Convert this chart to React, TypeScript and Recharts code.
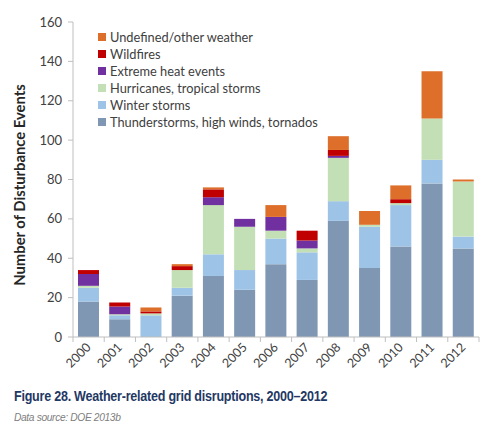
import React from "react";
import { BarChart, Bar, XAxis, YAxis, Legend, Label } from "recharts";

const years = ["2000","2001","2002","2003","2004","2005","2006","2007","2008","2009","2010","2011","2012"];
const thunderstorms = [18, 9, 0, 21, 31, 24, 37, 29, 59, 35, 46, 78, 45];
const winterStorms = [7, 2, 11, 4, 11, 10, 13, 14, 10, 21, 21, 12, 6];
const hurricanes = [1, 0.5, 1, 9, 25, 22, 4, 2, 22, 1, 1, 21, 28];
const heatEvents = [6, 4, 0, 0, 4, 4, 7, 4, 1, 0, 0, 0, 0];
const wildfires = [2, 2, 1, 2, 4, 0, 0, 5, 3, 0, 2, 0, 0];
const undefinedOther = [0, 0, 2, 1, 1, 0, 6, 0, 7, 7, 7, 24, 1];
const yTicks = [0, 20, 40, 60, 80, 100, 120, 140, 160];

const series = [
  { key: "thunder", name: "Thunderstorms, high winds, tornados", color: "#8097b3", values: thunderstorms },
  { key: "winter", name: "Winter storms", color: "#9dc3e6", values: winterStorms },
  { key: "hurricane", name: "Hurricanes, tropical storms", color: "#c3dfb5", values: hurricanes },
  { key: "heat", name: "Extreme heat events", color: "#7030a0", values: heatEvents },
  { key: "wildfire", name: "Wildfires", color: "#c00000", values: wildfires },
  { key: "other", name: "Undefined/other weather", color: "#dd6f2a", values: undefinedOther },
];

const data = years.map((y, i) => {
  const row: Record<string, any> = { year: y };
  series.forEach((s) => (row[s.key] = s.values[i]));
  return row;
});

const FONT = "Lato, 'Open Sans', sans-serif";
const BAND = 406 / 13;

const XTick = (props: any) => {
  const { x, y, payload, index } = props;
  return (
    <g>
      <line x1={x - BAND / 2} x2={x - BAND / 2} y1={y} y2={y + 5} stroke="#bfbfbf" />
      {index === years.length - 1 && (
        <line x1={x + BAND / 2} x2={x + BAND / 2} y1={y} y2={y + 5} stroke="#bfbfbf" />
      )}
      <text
        x={x + 3}
        y={y + 11}
        textAnchor="end"
        transform={`rotate(-45, ${x + 3}, ${y + 11})`}
        fontSize={12.5}
        fontFamily={FONT}
        fill="#404040"
      >
        {payload.value}
      </text>
    </g>
  );
};

const LegendContent = () => (
  <div style={{ fontFamily: FONT, fontSize: 12.8, color: "#404040" }}>
    {[...series].reverse().map((s) => (
      <div key={s.key} style={{ display: "flex", alignItems: "center", height: 17, whiteSpace: "nowrap" }}>
        <span style={{ display: "inline-block", width: 8, height: 8, background: s.color, marginRight: 4 }} />
        <span>{s.name}</span>
      </div>
    ))}
  </div>
);

export default function App() {
  return (
    <div style={{ position: "absolute", left: 0, top: 0, width: 487, height: 425, background: "#fff" }}>
      <BarChart
        width={487}
        height={425}
        data={data}
        margin={{ top: 22, right: 8, left: 0, bottom: 48 }}
        barCategoryGap="16%"
      >
        <XAxis
          dataKey="year"
          height={40}
          tickLine={false}
          tickSize={0}
          tickMargin={0}
          axisLine={{ stroke: "#bfbfbf" }}
          tick={<XTick />}
          interval={0}
        />
        <YAxis
          width={73}
          domain={[0, 160]}
          ticks={yTicks}
          interval={0}
          tickSize={5}
          tickMargin={6}
          axisLine={{ stroke: "#bfbfbf" }}
          tickLine={{ stroke: "#bfbfbf" }}
          tick={{ fontSize: 13, fontFamily: FONT, fill: "#404040" }}
        >
          <Label
            content={() => (
              <text
                x={19}
                y={185}
                transform="rotate(-90, 19, 185)"
                textAnchor="middle"
                dominantBaseline="central"
                fontSize={14.8}
                fontWeight="bold"
                fontFamily={FONT}
                fill="#262626"
              >
                Number of Disturbance Events
              </text>
            )}
          />
        </YAxis>
        <Legend
          layout="vertical"
          align="center"
          verticalAlign="middle"
          content={<LegendContent />}
          wrapperStyle={{ position: "absolute", left: 98, top: 28, width: 260 }}
        />
        {series.map((s) => (
          <Bar key={s.key} dataKey={s.key} name={s.name} stackId="a" fill={s.color} isAnimationActive={false} />
        ))}
      </BarChart>
      <div
        style={{
          position: "absolute",
          left: 14,
          top: 387,
          fontFamily: "'Liberation Sans', Arial, sans-serif",
          fontWeight: "bold",
          fontSize: 15.5,
          letterSpacing: -0.3,
          color: "#1f3864",
          whiteSpace: "nowrap",
          transform: "scaleX(0.81)",
          transformOrigin: "left top",
        }}
      >
        Figure 28. Weather-related grid disruptions, 2000–2012
      </div>
      <div
        style={{
          position: "absolute",
          left: 14,
          top: 411,
          fontFamily: "'Liberation Sans', Arial, sans-serif",
          fontStyle: "italic",
          fontSize: 11.5,
          letterSpacing: -0.4,
          color: "#808080",
          whiteSpace: "nowrap",
          transform: "scaleX(0.89)",
          transformOrigin: "left top",
        }}
      >
        Data source: DOE 2013b
      </div>
    </div>
  );
}
